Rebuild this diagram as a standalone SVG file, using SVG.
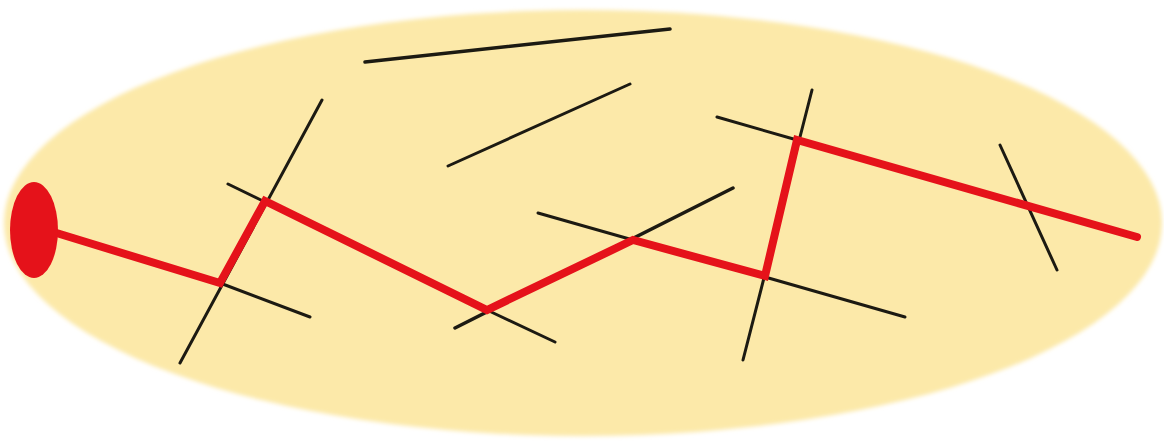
<svg xmlns="http://www.w3.org/2000/svg" width="1164" height="441" viewBox="0 0 1164 441">
<defs>
<style>
.fib{stroke:#1c1a12;stroke-width:3;stroke-linecap:round;fill:none}
.path{stroke:#e5121a;stroke-width:8;stroke-linecap:round;stroke-linejoin:miter;fill:none}
</style>
<filter id="soft" x="-5%" y="-5%" width="110%" height="110%"><feGaussianBlur stdDeviation="2"/></filter>
</defs>
<rect width="1164" height="441" fill="#ffffff"/>
<ellipse cx="583" cy="223" rx="579" ry="213" fill="#fce9a9" filter="url(#soft)"/>
<g id="fibres">
<line class="fib" x1="365" y1="62" x2="670" y2="29" style="stroke-width:3.5"/>
<line class="fib" x1="448" y1="166" x2="630" y2="84"/>
<line class="fib" x1="180" y1="363" x2="322" y2="100"/>
<line class="fib" x1="228" y1="184" x2="265" y2="202"/>
<line class="fib" x1="220" y1="283" x2="310" y2="317"/>
<line class="fib" x1="455" y1="328" x2="733" y2="188" style="stroke-width:3.5"/>
<line class="fib" x1="487" y1="310" x2="555" y2="342"/>
<line class="fib" x1="538" y1="213" x2="633" y2="240"/>
<line class="fib" x1="812" y1="90" x2="743" y2="360"/>
<line class="fib" x1="717" y1="117" x2="797" y2="140"/>
<line class="fib" x1="765" y1="277" x2="905" y2="317"/>
<line class="fib" x1="1000" y1="145" x2="1057" y2="270"/>
</g>
<g id="conduction-path">
<polyline class="path" points="50,231 220,283 265,201 487,310 633,240 765,276 797,140 1137,237"/>
<ellipse cx="34" cy="230" rx="24" ry="48" fill="#e5121a"/>
</g>
</svg>
